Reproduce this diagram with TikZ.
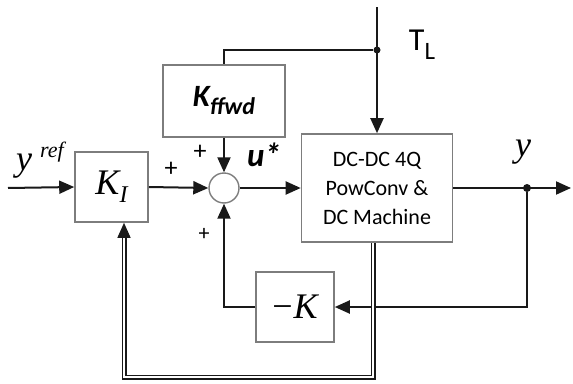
\documentclass[tikz,border=0pt]{standalone}
\usepackage{fontspec}
\setsansfont{Carlito}
\newfontfamily\symfont{Liberation Serif}
\usetikzlibrary{arrows.meta,calc}
\definecolor{boxgray}{RGB}{125,125,125}
\definecolor{wiredark}{RGB}{25,25,25}

\begin{document}
\begin{tikzpicture}[x=1pt, y=-1pt, >={Triangle[length=15pt,width=13pt]},
    blk/.style={draw=boxgray, line width=1.6pt, fill=white, inner sep=0pt},
    sumpt/.style={circle, draw=boxgray, line width=1.4pt, fill=white, minimum size=30pt, inner sep=0pt},
    wire/.style={draw=wiredark, line width=2pt},
    vec/.style={draw=wiredark, line width=1.3pt, double=white, double distance=2.4pt},
    dot/.style={circle, fill=wiredark, minimum size=8pt, inner sep=0pt},
    lbl/.style={inner sep=0pt}]
    \useasboundingbox (0,0) rectangle (573,383);
    % Blocks
    \node[blk, minimum width=73pt, minimum height=70pt, font=\symfont\itshape\fontsize{36}{36}\selectfont] (KI) at (111.5,187)
        {K\raisebox{-8pt}{\fontsize{24}{24}\selectfont I}};
    \node[blk, minimum width=122pt, minimum height=72pt, font=\sffamily\bfseries\itshape\fontsize{31}{31}\selectfont] (KF) at (224,101)
        {K\raisebox{-8pt}{\fontsize{24}{24}\selectfont ffwd}};
    \node[sumpt] (sum) at (224,188) {};
    \node[blk, minimum width=151pt, minimum height=108pt, align=center, font=\sffamily\fontsize{22}{29}\selectfont] (PL) at (377,188)
        {DC-DC 4Q\\PowConv \&\\DC Machine};
    \node[blk, minimum width=78pt, minimum height=70pt, font=\symfont\fontsize{36}{36}\selectfont] (mK) at (295,307)
        {−\kern1pt\itshape K};
    % Points
    \coordinate (yin) at (8,188);
    \coordinate (yout) at (571,188);
    \coordinate (tltop) at (377,7);
    \node[dot, minimum size=7pt] (tldot) at (377,50) {};
    \node[dot] (ydot) at (527,188) {};
    \coordinate (fbA) at ($(PL.south)+(-4,0)$);
    \coordinate (fbB) at (124,377);
    \coordinate (fbC) at ($(KI.south)+(12.5,0)$);
    % Signals
    \draw[wire,->] (yin) -- (KI.west);
    \draw[wire,->] (KI.east) -- (sum.west);
    \draw[wire,->] (sum.east) -- (PL.west);
    \draw[wire,->] (PL.east) -- (yout);
    \draw[wire,->] (tltop) -- (PL.north);
    \draw[wire] (tldot) -| (KF.north);
    \draw[wire,->] (KF.south) -- (sum.north);
    \draw[wire,->] (ydot) |- (mK.east);
    \draw[wire,->] (mK.west) -| (sum.south);
    \draw[vec,->] (fbA) |- (fbB) -- (fbC);
    % Labels
    \node[lbl, font=\symfont\itshape\fontsize{36}{36}\selectfont] (yref) at (40,160) {y\kern8pt\raisebox{13pt}{\fontsize{22}{22}\selectfont ref}};
    \node[lbl, font=\symfont\itshape\fontsize{36}{36}\selectfont] (ylbl) at (523,152) {y};
    \node[lbl, font=\sffamily\bfseries\itshape\fontsize{33}{33}\selectfont] (ustar) at (264,155) {u*};
    \node[lbl, font=\sffamily\fontsize{32}{32}\selectfont] (tl) at (422,45) {T\raisebox{-9pt}{\fontsize{25}{25}\selectfont L}};
    \node[lbl, font=\sffamily\fontsize{26}{26}\selectfont] (p1) at (171,169) {+};
    \node[lbl, font=\sffamily\fontsize{26}{26}\selectfont] (p2) at (200,152) {+};
    \node[lbl, font=\sffamily\fontsize{22}{22}\selectfont] (p3) at (204,234) {+};
\end{tikzpicture}
\end{document}
